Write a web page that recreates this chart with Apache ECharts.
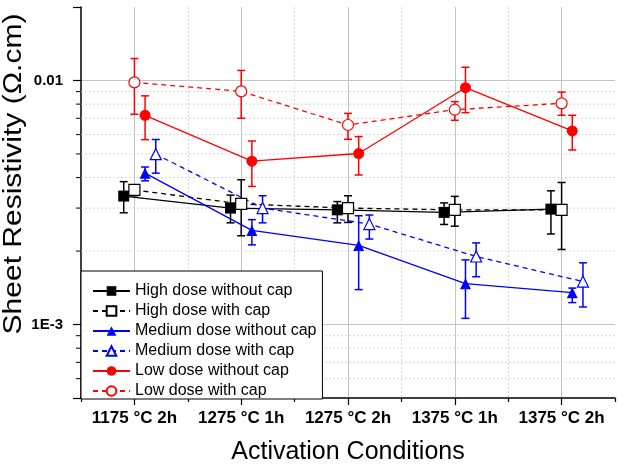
<!DOCTYPE html>
<html><head><meta charset="utf-8">
<script src="https://cdn.jsdelivr.net/npm/echarts@6/dist/echarts.min.js"></script>
<style>html,body{margin:0;padding:0;background:#fff}#c{width:618px;height:468px}</style>
</head><body><div id="c"></div><script>
// ---- data ----
const categories = ['1175 °C 2h', '1275 °C 1h', '1275 °C 2h', '1375 °C 1h', '1375 °C 2h'];
const yTickValues = [0.001, 0.01];
const yTickLabels = ['1E-3', '0.01'];
const yMinorTicks = [0.0006, 0.0007, 0.0008, 0.0009, 0.002, 0.003, 0.004, 0.005, 0.006, 0.007, 0.008, 0.009];

const highWithoutCap      = [0.00336, 0.00300, 0.00295, 0.00288, 0.00297];
const highWithoutCapLower = [0.00287, 0.00261, 0.00261, 0.00257, 0.00235];
const highWithoutCapUpper = [0.00385, 0.00339, 0.00319, 0.00315, 0.00353];

const highWithCap      = [0.00356, 0.00312, 0.00300, 0.00295, 0.00295];
const highWithCapLower = [0.00337, 0.00231, 0.00262, 0.00253, 0.00203];
const highWithCapUpper = [0.00373, 0.00392, 0.00337, 0.00335, 0.00382];

const mediumWithoutCap      = [0.00417, 0.00243, 0.00211, 0.00147, 0.00135];
const mediumWithoutCapLower = [0.00388, 0.00212, 0.00139, 0.00106, 0.00123];
const mediumWithoutCapUpper = [0.00442, 0.00269, 0.00279, 0.00184, 0.00141];

const mediumWithCap      = [0.00499, 0.00300, 0.00258, 0.00190, 0.00150];
const mediumWithCapLower = [0.00417, 0.00261, 0.00224, 0.00157, 0.00118];
const mediumWithCapUpper = [0.00573, 0.00337, 0.00281, 0.00216, 0.00179];

const lowWithoutCap      = [0.00720, 0.00467, 0.00502, 0.00934, 0.00621];
const lowWithoutCapLower = [0.00572, 0.00368, 0.00410, 0.00738, 0.00519];
const lowWithoutCapUpper = [0.00865, 0.00565, 0.00589, 0.01133, 0.00720];

const lowWithCap      = [0.00982, 0.00902, 0.00657, 0.00759, 0.00806];
const lowWithCapLower = [0.00727, 0.00700, 0.00574, 0.00687, 0.00720];
const lowWithCapUpper = [0.01230, 0.01099, 0.00733, 0.00819, 0.00896];

// ---- styling / layout ----
const FONT = "'Liberation Sans', Arial, sans-serif";
const defs = [
  {name: 'High dose without cap',   v: highWithoutCap,   lo: highWithoutCapLower,   hi: highWithoutCapUpper,   color: '#000000', symbol: 'rect',     filled: true,  dashed: false, offset: -0.1},
  {name: 'High dose with cap',      v: highWithCap,      lo: highWithCapLower,      hi: highWithCapUpper,      color: '#000000', symbol: 'rect',     filled: false, dashed: true,  offset: 0},
  {name: 'Medium dose without cap', v: mediumWithoutCap, lo: mediumWithoutCapLower, hi: mediumWithoutCapUpper, color: '#0000ff', symbol: 'triangle', filled: true,  dashed: false, offset: 0.1},
  {name: 'Medium dose with cap',    v: mediumWithCap,    lo: mediumWithCapLower,    hi: mediumWithCapUpper,    color: '#0000ff', symbol: 'triangle', filled: false, dashed: true,  offset: 0.2},
  {name: 'Low dose without cap',    v: lowWithoutCap,    lo: lowWithoutCapLower,    hi: lowWithoutCapUpper,    color: '#ff0000', symbol: 'circle',   filled: true,  dashed: false, offset: 0.1},
  {name: 'Low dose with cap',       v: lowWithCap,       lo: lowWithCapLower,       hi: lowWithCapUpper,       color: '#ff0000', symbol: 'circle',   filled: false, dashed: true,  offset: 0}
];

const series = [];
// minor y grid lines + minor y ticks
series.push({
  type: 'custom', xAxisIndex: 1, yAxisIndex: 0, silent: true, z: 1,
  data: yMinorTicks.map(v => [0, v]),
  renderItem: function (params, api) {
    const p = api.coord([0, api.value(1)]);
    const cs = params.coordSys;
    return {type: 'group', children: [
      {type: 'line', shape: {x1: cs.x, y1: p[1], x2: cs.x + cs.width, y2: p[1]}, style: {stroke: '#d6d6d6', lineWidth: 1, lineDash: [2, 2]}},
      {type: 'line', shape: {x1: cs.x - 5, y1: p[1], x2: cs.x, y2: p[1]}, style: {stroke: '#000', lineWidth: 1}}
    ]};
  }
});
defs.forEach(d => {
  series.push({
    type: 'custom', xAxisIndex: 1, yAxisIndex: 0, silent: true, z: 3,
    data: d.v.map((val, i) => [i + 0.5 + d.offset, d.lo[i], d.hi[i]]),
    renderItem: function (params, api) {
      const t = api.coord([api.value(0), api.value(2)]);
      const b = api.coord([api.value(0), api.value(1)]);
      const w = 4;
      const st = {stroke: d.color, lineWidth: 1.5};
      return {type: 'group', children: [
        {type: 'line', shape: {x1: t[0], y1: t[1], x2: b[0], y2: b[1]}, style: st},
        {type: 'line', shape: {x1: t[0] - w, y1: t[1], x2: t[0] + w, y2: t[1]}, style: st},
        {type: 'line', shape: {x1: b[0] - w, y1: b[1], x2: b[0] + w, y2: b[1]}, style: st}
      ]};
    }
  });
});
defs.forEach(d => {
  series.push({
    name: d.name, type: 'line', xAxisIndex: 1, yAxisIndex: 0, z: 4,
    data: d.v.map((val, i) => [i + 0.5 + d.offset, val]),
    symbol: d.symbol, symbolSize: 11,
    lineStyle: {color: d.color, width: 1.3, type: d.dashed ? [5, 4] : 'solid'},
    itemStyle: {color: d.filled ? d.color : '#ffffff', borderColor: d.color, borderWidth: d.filled ? 0 : 1.2},
    emphasis: {disabled: true}
  });
});

const chart = echarts.init(document.getElementById('c'), null, {renderer: 'canvas'});
chart.setOption({
  animation: false,
  backgroundColor: '#ffffff',
  grid: {left: 81, right: 3, top: 7, bottom: 70, containLabel: false},
  xAxis: [
    {type: 'category', data: categories, boundaryGap: true, position: 'bottom',
     axisLine: {show: false}, axisTick: {show: false}, splitLine: {show: false},
     axisLabel: {interval: 0, hideOverlap: false, color: '#000', fontFamily: FONT, fontWeight: 'bold', fontSize: 17, margin: 12}},
    {type: 'value', min: 0, max: 5, interval: 1, position: 'bottom',
     axisLine: {show: true, onZero: false, lineStyle: {color: '#000', width: 1.5}},
     axisTick: {show: true, inside: false, length: 4, lineStyle: {color: '#000', width: 1.2}},
     minorTick: {show: true, splitNumber: 2, length: 7, lineStyle: {color: '#000', width: 1.2}},
     axisLabel: {show: false},
     splitLine: {show: true, showMinLine: false, showMaxLine: false, lineStyle: {color: '#dadada', width: 1, type: [2, 2]}},
     minorSplitLine: {show: true, lineStyle: {color: '#c4c4c4', width: 1}}}
  ],
  yAxis: [{
    type: 'log', logBase: 10, min: 0.0005, max: 0.02,
    axisLine: {show: true, onZero: false, lineStyle: {color: '#000', width: 1.5}},
    axisTick: {show: true, inside: false, length: 8, lineStyle: {color: '#000', width: 1.2}},
    axisLabel: {color: '#000', fontFamily: FONT, fontWeight: 'bold', fontSize: 15, margin: 18,
      showMinLabel: true, showMaxLabel: true,
      formatter: function (v) {
        const i = yTickValues.findIndex(t => Math.abs(t - v) / t < 1e-6);
        return i >= 0 ? yTickLabels[i] : '';
      }},
    splitLine: {show: true, showMinLine: false, showMaxLine: false, lineStyle: {color: '#c4c4c4', width: 1}},
    minorTick: {show: false}, minorSplitLine: {show: false}
  }],
  legend: {
    orient: 'vertical', left: 81, top: 271,
    data: defs.map(d => d.name),
    itemWidth: 37, itemHeight: 12, itemGap: 4,
    padding: [12, 6, 0, 11],
    backgroundColor: '#ffffff', borderColor: '#000', borderWidth: 1, borderRadius: 0,
    textStyle: {color: '#000', fontFamily: FONT, fontSize: 16},
    selectedMode: false, z: 10
  },
  graphic: [
    {type: 'text', x: 348, y: 452, z: 10,
     style: {text: 'Activation Conditions', font: '25px ' + FONT, fill: '#000', textAlign: 'center', textVerticalAlign: 'middle'}},
    {type: 'text', x: 14, y: 174, rotation: Math.PI / 2, scaleX: 1.2, z: 10,
     style: {text: 'Sheet Resistivity (Ω.cm)', font: '25px ' + FONT, fill: '#000', textAlign: 'center', textVerticalAlign: 'middle'}}
  ],
  series: series
});
</script></body></html>
